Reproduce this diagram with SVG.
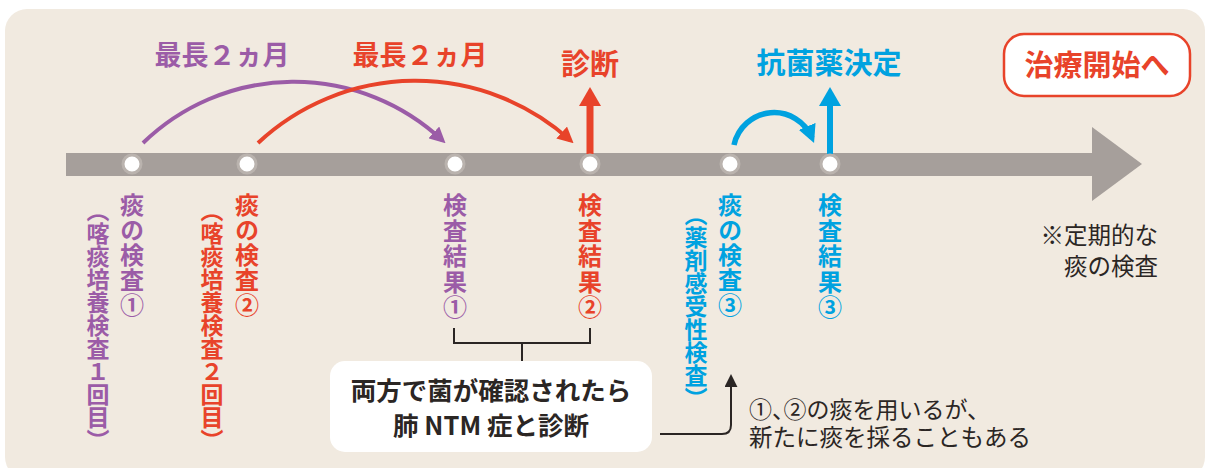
<svg xmlns="http://www.w3.org/2000/svg" width="1213" height="468" viewBox="0 0 1213 468">
<style>
text{font-family:"Noto Sans CJK JP","Noto Sans",sans-serif;}
.b{font-weight:700;}
.v{writing-mode:vertical-rl;}
.pu{fill:#9B5CA7;}
.rd{fill:#E8432A;}
.bl{fill:#00A2E0;}
.dk{fill:#2B2624;}
.circ{fill:#fff;stroke:#BAB3AE;stroke-width:3;}
.thin{fill:none;stroke:#2B2624;stroke-width:2;}
.half{font-feature-settings:"halt";}
</style>
<defs>
<marker id="mp" viewBox="0 0 10 10" refX="7" refY="5" markerWidth="16" markerHeight="16" markerUnits="userSpaceOnUse" orient="auto"><path d="M0,0 L10,5 L0,10 z" fill="#9B5CA7"/></marker>
<marker id="mr" viewBox="0 0 10 10" refX="7" refY="5" markerWidth="16" markerHeight="16" markerUnits="userSpaceOnUse" orient="auto"><path d="M0,0 L10,5 L0,10 z" fill="#E8432A"/></marker>
<marker id="mb" viewBox="0 0 10 10" refX="7" refY="5" markerWidth="18" markerHeight="18" markerUnits="userSpaceOnUse" orient="auto"><path d="M0,0 L10,5 L0,10 z" fill="#00A2E0"/></marker>
<marker id="mk" viewBox="0 0 10 10" refX="7" refY="5" markerWidth="13" markerHeight="13" markerUnits="userSpaceOnUse" orient="auto"><path d="M0,0 L10,5 L0,10 z" fill="#2B2624"/></marker>
</defs>
<rect x="5" y="9" width="1200" height="470" rx="22" fill="#F1EAE0"/>
<g id="timeline">
<rect x="66" y="153" width="1028" height="23" fill="#A69F9B"/>
<polygon points="1092,127 1142,164 1092,201" fill="#A69F9B"/>
</g>
<g id="connectors">
<path d="M143,143 A217,217 0 0 1 442,140" fill="none" stroke="#9B5CA7" stroke-width="4" marker-end="url(#mp)"/>
<path d="M258,143 A231,231 0 0 1 570,140" fill="none" stroke="#E8432A" stroke-width="4" marker-end="url(#mr)"/>
<path d="M734,145 A41,41 0 0 1 812,138" fill="none" stroke="#00A2E0" stroke-width="5.5" marker-end="url(#mb)"/>
<rect x="586.5" y="104" width="7" height="50" fill="#E8432A"/>
<polygon points="579,106 601,106 590,87" fill="#E8432A"/>
<rect x="827" y="104" width="6" height="50" fill="#00A2E0"/>
<polygon points="819,106 841,106 830,87" fill="#00A2E0"/>
<path d="M454,328 V343 H590 V328 M522,343 V361" class="thin"/>
<path d="M660,434 H722 Q731,434 731,425 V378" class="thin" marker-end="url(#mk)"/>
</g>
<g id="n1"><circle cx="132" cy="164" r="9" class="circ"/>
<text class="v b pu" x="132" y="193" font-size="24" letter-spacing="1">痰の検査①</text>
<text class="v b pu" x="98" y="199" font-size="23">（喀痰培養検査１回目）</text></g>
<g id="n2"><circle cx="247" cy="164" r="9" class="circ"/>
<text class="v b rd" x="247" y="193" font-size="24" letter-spacing="1">痰の検査②</text>
<text class="v b rd" x="212" y="199" font-size="23">（喀痰培養検査２回目）</text></g>
<g id="n3"><circle cx="455" cy="164" r="9" class="circ"/>
<text class="v b pu" x="455" y="193" font-size="24" letter-spacing="1.5">検査結果①</text></g>
<g id="n4"><circle cx="590" cy="164" r="9" class="circ"/>
<text class="v b rd" x="590" y="193" font-size="24" letter-spacing="1.5">検査結果②</text></g>
<g id="n5"><circle cx="730" cy="164" r="9" class="circ"/>
<text class="v b bl" x="730" y="193" font-size="24" letter-spacing="1">痰の検査③</text>
<text class="v b bl" x="696" y="203" font-size="23">（薬剤感受性検査）</text></g>
<g id="n6"><circle cx="830" cy="164" r="9" class="circ"/>
<text class="v b bl" x="830" y="193" font-size="24" letter-spacing="1.5">検査結果③</text></g>
<g id="labels">
<text class="b pu" x="222" y="65" font-size="27" text-anchor="middle">最長２ヵ月</text>
<text class="b rd" x="420" y="65" font-size="27" text-anchor="middle">最長２ヵ月</text>
<text class="b rd" x="590" y="75" font-size="29" text-anchor="middle">診断</text>
<text class="b bl" x="829" y="74" font-size="29" text-anchor="middle">抗菌薬決定</text>
</g>
<g id="treatment">
<rect x="1004" y="34" width="186" height="62" rx="20" fill="#fff" stroke="#E8432A" stroke-width="2.5"/>
<text class="b rd" x="1097" y="76" font-size="29" text-anchor="middle">治療開始へ</text>
</g>
<g id="diagnosis">
<rect x="330" y="361" width="322" height="91" rx="15" fill="#fff"/>
<text class="b dk" x="491" y="400" font-size="25.5" text-anchor="middle">両方で菌が確認されたら</text>
<text class="b dk" x="491" y="435" font-size="25.5" text-anchor="middle">肺 NTM 症と診断</text>
</g>
<g id="notes">
<text class="dk" x="749" y="418" font-size="23">①<tspan class="half">、</tspan>②の痰を用いるが、</text>
<text class="dk" x="749" y="446" font-size="23.5">新たに痰を採ることもある</text>
<text class="dk" x="1158" y="244" font-size="23.5" text-anchor="end">※定期的な</text>
<text class="dk" x="1158" y="275" font-size="23.5" text-anchor="end">痰の検査</text>
</g>
</svg>
